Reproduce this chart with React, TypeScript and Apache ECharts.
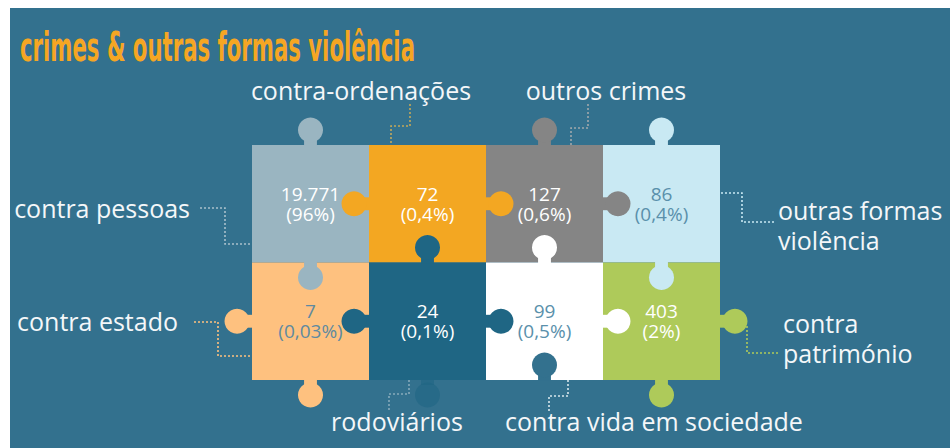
import React, { useEffect, useRef } from "react";
import * as echarts from "echarts";

// ---------- data ----------
const title = "crimes & outras formas violência";
const categories = [
  "contra pessoas",
  "contra-ordenações",
  "outros crimes",
  "outras formas violência",
  "contra estado",
  "rodoviários",
  "contra vida em sociedade",
  "contra património",
];
const values = [19771, 72, 127, 86, 7, 24, 99, 403];
const shares = ["96%", "0,4%", "0,6%", "0,4%", "0,03%", "0,1%", "0,5%", "2%"];
const columns = [0, 1, 2, 3, 0, 1, 2, 3];
const rows = [0, 0, 0, 0, 1, 1, 1, 1];

// ---------- styles / layout ----------
const BG = "#33718e";
const tileColors = ["#9ab5c1", "#f3a722", "#858585", "#c9e9f3", "#fec17f", "#1f6684", "#ffffff", "#aeca5a"];
const valueColors = ["#ffffff", "#ffffff", "#ffffff", "#5a90ab", "#5f8aa0", "#ffffff", "#5a90ab", "#ffffff"];
// t/r/b/l = knob out, B = faded bottom knob, h = hole at bottom
const knobs: string[][] = [["t", "b"], ["l", "r"], ["t", "r"], ["t", "b"], ["l", "b"], ["t", "l", "r", "B"], ["t", "r", "h"], ["r", "b"]];
const leaderColors = ["#a9c0cb", "#c2a85a", "#a0a8ac", "#c9e9f3", "#fec17f", "#86aabb", "#d8e6ec", "#aeca5a"];
const leaders: number[][][] = [
  [[200, 208], [225, 208], [225, 244], [252, 244]],
  [[410, 104], [410, 126], [391, 126], [391, 145]],
  [[588, 104], [588, 128], [571, 128], [571, 145]],
  [[721, 193], [742, 193], [742, 222], [774, 222]],
  [[194, 322], [218, 322], [218, 356], [252, 356]],
  [[409, 380], [409, 394], [389, 394], [389, 410]],
  [[568, 380], [568, 396], [549, 396], [549, 412]],
  [[747, 326], [747, 353], [778, 353]],
];
// label anchor: x, y (first line middle), align, words on first line (0 = single line)
const labelPos: [number, number, string, number][] = [
  [190, 208, "right", 0],
  [361, 90, "center", 0],
  [606, 90, "center", 0],
  [778, 210, "left", 2],
  [178, 321, "right", 0],
  [397, 421, "center", 0],
  [654, 421, "center", 0],
  [783, 323, "left", 1],
];

const fmt = (v: number) => String(v).replace(/\B(?=(\d{3})+(?!\d))/g, ".");

function labelText(i: number) {
  const brk = labelPos[i][3];
  if (!brk) return categories[i];
  const w = categories[i].split(" ");
  return w.slice(0, brk).join(" ") + "\n" + w.slice(brk).join(" ");
}

export default function App() {
  const ref = useRef<HTMLDivElement>(null);
  useEffect(() => {
    if (!ref.current) return;
    const chart = echarts.init(ref.current, undefined, { renderer: "svg" });

    const titleFont = 'bold 41px "Liberation Sans Narrow", "DejaVu Sans Condensed", "DejaVu Sans", sans-serif';
    let titleScale = 0.6;
    try {
      const cv = document.createElement("canvas");
      const ctx = cv.getContext("2d");
      if (ctx) {
        ctx.font = titleFont;
        const w = ctx.measureText(title).width;
        if (w > 0) titleScale = 395 / w;
      }
    } catch (e) {}

    const tileData = categories.map((c, i) => [columns[i], rows[i], i]);

    const graphic: any[] = [
      { type: "rect", z: -10, shape: { x: 10, y: 8, width: 940, height: 440 }, style: { fill: BG } },
      {
        type: "text",
        z: 10,
        x: 20,
        y: 47,
        scaleX: titleScale,
        style: {
          text: title,
          x: 0,
          y: 0,
          align: "left",
          verticalAlign: "middle",
          font: titleFont,
          fill: "#f5a623",
        },
      },
    ];
    leaders.forEach((pts, i) => {
      graphic.push({
        type: "polyline",
        z: 1,
        shape: { points: pts },
        style: { stroke: leaderColors[i], lineWidth: 1.6, lineDash: [2, 2], fill: null },
      });
    });
    categories.forEach((c, i) => {
      const [x, y, align] = labelPos[i];
      labelText(i).split("\n").forEach((line, j) => {
        graphic.push({
          type: "text",
          z: 10,
          style: {
            text: line,
            x,
            y: y + j * 30,
            align,
            verticalAlign: "middle",
            fontFamily: "Open Sans",
            fontSize: 25,
            lineHeight: 28,
            fill: "#f4f7f9",
          },
        });
      });
    });

    const option: any = {
      animation: false,
      backgroundColor: "#ffffff",
      grid: { left: 252, top: 145, width: 468, height: 235 },
      xAxis: { type: "value", min: 0, max: 4, show: false },
      yAxis: { type: "value", min: 0, max: 2, inverse: true, show: false },
      graphic,
      series: [
        {
          type: "custom",
          z: 2,
          coordinateSystem: "cartesian2d",
          encode: { x: 0, y: 1 },
          data: tileData,
          renderItem: (params: any, api: any) => {
            const c = api.value(0), r = api.value(1), i = api.value(2);
            const p0 = api.coord([c, r]);
            const p1 = api.coord([c + 1, r + 1]);
            return {
              type: "rect",
              shape: { x: p0[0], y: p0[1], width: p1[0] - p0[0], height: p1[1] - p0[1] },
              style: { fill: tileColors[i] },
            };
          },
        },
        {
          type: "custom",
          z: 3,
          coordinateSystem: "cartesian2d",
          encode: { x: 0, y: 1 },
          data: tileData,
          renderItem: (params: any, api: any) => {
            const c = api.value(0), r = api.value(1), i = api.value(2);
            const p0 = api.coord([c, r]);
            const p1 = api.coord([c + 1, r + 1]);
            const x = p0[0], y = p0[1], w = p1[0] - p0[0], h = p1[1] - p0[1];
            const R = w * 0.107, off = w * 0.128, nw = w * 0.11;
            const children: any[] = [];
            knobs[i].forEach((k) => {
              let fill = tileColors[i];
              let opacity = 1;
              let cx = 0, cy = 0;
              let neck: any;
              if (k === "t") {
                cx = x + w / 2; cy = y - off;
                neck = { x: cx - nw / 2, y: cy, width: nw, height: off + 1 };
              } else if (k === "b") {
                cx = x + w / 2; cy = y + h + off;
                neck = { x: cx - nw / 2, y: y + h - 1, width: nw, height: off + 1 };
              } else if (k === "B") {
                cx = x + w / 2; cy = y + h + off;
                neck = { x: cx - nw / 2, y: y + h, width: nw, height: off - R * 0.8 };
                opacity = 0.6;
              } else if (k === "l") {
                cx = x - off; cy = y + h / 2;
                neck = { x: cx, y: cy - nw / 2, width: off + 1, height: nw };
              } else if (k === "r") {
                cx = x + w + off; cy = y + h / 2;
                neck = { x: x + w - 1, y: cy - nw / 2, width: off + 1, height: nw };
              } else if (k === "h") {
                fill = BG;
                cx = x + w / 2; cy = y + h - off;
                neck = { x: cx - nw / 2, y: cy, width: nw, height: off + 0.5 };
              }
              children.push({ type: "rect", shape: neck, style: { fill, opacity } });
              children.push({ type: "circle", shape: { cx, cy, r: R }, style: { fill, opacity } });
            });
            const lines = [fmt(values[i]), "(" + shares[i] + ")"];
            lines.forEach((t, j) => {
              children.push({
                type: "text",
                z2: 10,
                style: {
                  text: t,
                  x: x + w / 2,
                  y: y + h / 2 - 10 + j * 20,
                  align: "center",
                  verticalAlign: "middle",
                  fontFamily: "Open Sans",
                  fontSize: 19,
                  lineHeight: 19,
                  fill: valueColors[i],
                },
              });
            });
            return { type: "group", children };
          },
        },
      ],
    };
    chart.setOption(option);
    return () => chart.dispose();
  }, []);

  return (
    <div
      ref={ref}
      style={{ position: "absolute", left: 0, top: 0, width: 950, height: 448 }}
    />
  );
}
